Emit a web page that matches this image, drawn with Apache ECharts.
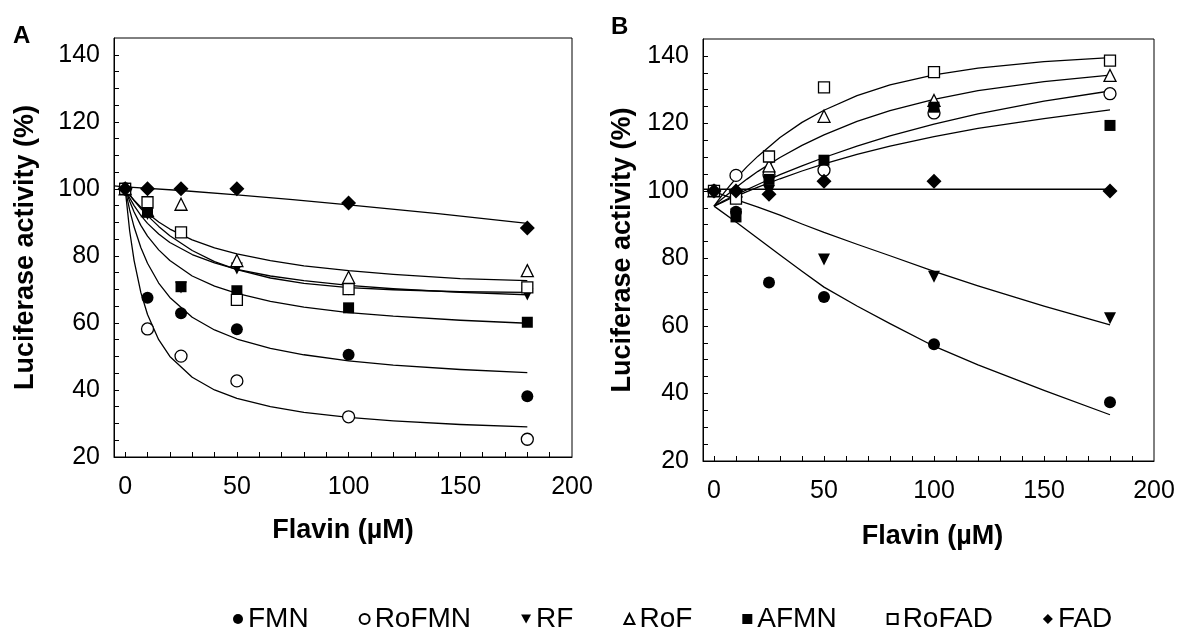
<!DOCTYPE html>
<html>
<head>
<meta charset="utf-8">
<script src="https://cdn.jsdelivr.net/npm/echarts@6/dist/echarts.min.js"></script>
<style>
html,body{margin:0;padding:0;background:#fff;}
#chart{width:1179px;height:634px;}
</style>
</head>
<body>
<div id="chart"></div>
<script>
// ---------- DATA ----------
const seriesNames = ['FMN', 'RoFMN', 'RF', 'RoF', 'AFMN', 'RoFAD', 'FAD'];
const flavinX = [0, 10, 25, 50, 100, 180];

// Panel A measured points
const aFMN   = [100, 67.5, 62.9, 58.1, 50.5, 38.1];
const aRoFMN = [100, 58.2, 50.1, 42.7, 32.0, 25.3];
const aRF    = [100, 92.5, 70.6, 76.2, 70.0, 68.5];
const aRoF   = [100, 93.5, 95.4, 78.6, 73.6, 75.6];
const aAFMN  = [100, 93.0, 70.8, 69.6, 64.5, 60.2];
const aRoFAD = [100, 96.0, 87.0, 66.9, 70.1, 70.6];
const aFAD   = [100, 100, 100, 100, 95.8, 88.3];

// Panel A fitted curves
const aCurveX   = [0, 2, 4, 7, 10, 15, 20, 30, 40, 50, 65, 80, 100, 120, 150, 180];
const aFitFMN   = [100, 93.7, 88.6, 82.5, 77.8, 71.9, 67.6, 61.7, 57.9, 55.2, 52.4, 50.5, 48.7, 47.4, 46.1, 45.2];
const aFitRoFMN = [100, 87.5, 78.6, 69.1, 62.5, 55.0, 50.0, 43.8, 40.0, 37.5, 35.0, 33.3, 31.8, 30.8, 29.7, 29.0];
const aFitRF    = [100, 98.2, 96.5, 94.1, 92.0, 88.8, 86.0, 81.6, 78.3, 75.9, 73.4, 71.8, 70.5, 69.9, 69.3, 69.1];
const aFitRoF   = [100, 98.2, 96.6, 94.5, 92.7, 90.1, 88.0, 84.8, 82.4, 80.6, 78.6, 77.0, 75.6, 74.5, 73.2, 72.6];
const aFitAFMN  = [100, 96.3, 93.1, 89.1, 85.9, 81.8, 78.6, 74.0, 71.0, 68.8, 66.4, 64.7, 63.1, 62.0, 60.8, 59.9];
const aFitRoFAD = [100, 97.3, 95.0, 92.1, 89.7, 86.5, 84.0, 80.4, 77.9, 76.0, 74.0, 72.6, 71.2, 70.2, 69.1, 68.4];
const aFADX     = [-5, 0, 25, 50, 75, 100, 140, 180];
const aFitFAD   = [100.9, 100.6, 99.5, 98.2, 96.8, 95.2, 92.6, 89.7];

// Panel B measured points
const bFMN   = [100, 93.8, 72.9, 68.6, 54.6, 37.4];
const bRoFMN = [100, 104.6, 104.8, 106.1, 123.1, 128.8];
const bRF    = [100, 93.0, 100.0, 79.7, 74.6, 62.3];
const bRoF   = [100, 100.0, 107.4, 122.1, 126.8, 134.2];
const bAFMN  = [100, 92.3, 103.4, 109.1, 124.8, 119.4];
const bRoFAD = [100, 97.7, 110.2, 130.7, 135.2, 138.6];
const bFAD   = [100, 100, 99, 102.9, 102.9, 100];

// Panel B fitted curves
const bCurveX   = [0, 2, 4, 7, 10, 15, 20, 30, 40, 50, 65, 80, 100, 120, 150, 180];
const bFitRoFMN = [95.5, 96.2, 96.9, 97.9, 98.8, 100.4, 101.9, 104.8, 107.4, 109.9, 113.3, 116.3, 119.8, 122.8, 126.6, 129.6];
const bFitRoF   = [95.5, 96.7, 97.8, 99.4, 101.0, 103.5, 105.8, 109.9, 113.5, 116.6, 120.6, 123.8, 127.1, 129.7, 132.4, 134.3];
const bFitAFMN  = [95.5, 96.1, 96.7, 97.6, 98.4, 99.8, 101.1, 103.6, 105.9, 108.0, 110.8, 113.3, 116.1, 118.5, 121.4, 124.0];
const bFitRoFAD = [95.5, 97.3, 99.0, 101.4, 103.7, 107.2, 110.3, 115.8, 120.3, 123.9, 128.2, 131.4, 134.4, 136.4, 138.3, 139.5];
const bDownX    = [0, 10, 20, 30, 40, 50, 65, 80, 100, 120, 150, 180];
const bFitFMN   = [95.5, 90.8, 85.9, 81.0, 76.2, 71.5, 65.9, 60.7, 54.0, 48.5, 40.9, 33.7];
const bFitRF    = [99.8, 97.4, 95.2, 92.8, 90.2, 87.7, 84.2, 80.8, 76.2, 71.9, 65.9, 60.3];
const bFADX     = [-5, 0, 50, 100, 180];
const bFitFAD   = [100.5, 100.5, 100.5, 100.5, 100.5];

// Axis ticks / labels
const xTickValues  = [0, 10, 20, 30, 40, 50, 60, 70, 80, 90, 100, 110, 120, 130, 140, 150, 160, 170, 180, 190];
const xTickLabels  = [0, 50, 100, 150, 200];
const yTickValues  = [20, 25, 30, 35, 40, 45, 50, 55, 60, 65, 70, 75, 80, 85, 90, 95, 100, 105, 110, 115, 120, 125, 130, 135, 140];
const yTickLabels  = [20, 40, 60, 80, 100, 120, 140];
const xTitle = 'Flavin (µM)';
const yTitle = 'Luciferase activity (%)';
const panelLetters = ['A', 'B'];

// ---------- STYLE ----------
const FONT = 'Liberation Sans, Arial, sans-serif';
const symbolStyle = {
  FMN:   {symbol: 'circle',   size: 12, rotate: 0,   filled: true,  icon: 'circle'},
  RoFMN: {symbol: 'circle',   size: 12, rotate: 0,   filled: false, icon: 'circle'},
  RF:    {symbol: 'triangle', size: 12, rotate: 180, filled: true,  icon: 'path://M0,0L10,0L5,9Z'},
  RoF:   {symbol: 'triangle', size: 12, rotate: 0,   filled: false, icon: 'triangle'},
  AFMN:  {symbol: 'rect',     size: 11, rotate: 0,   filled: true,  icon: 'rect'},
  RoFAD: {symbol: 'rect',     size: 11, rotate: 0,   filled: false, icon: 'rect'},
  FAD:   {symbol: 'diamond',  size: 15, rotate: 0,   filled: true,  icon: 'diamond'}
};

const panels = [
  {pts: {FMN: aFMN, RoFMN: aRoFMN, RF: aRF, RoF: aRoF, AFMN: aAFMN, RoFAD: aRoFAD, FAD: aFAD},
   fits: {FMN: [aCurveX, aFitFMN], RoFMN: [aCurveX, aFitRoFMN], RF: [aCurveX, aFitRF], RoF: [aCurveX, aFitRoF],
          AFMN: [aCurveX, aFitAFMN], RoFAD: [aCurveX, aFitRoFAD], FAD: [aFADX, aFitFAD]}},
  {pts: {FMN: bFMN, RoFMN: bRoFMN, RF: bRF, RoF: bRoF, AFMN: bAFMN, RoFAD: bRoFAD, FAD: bFAD},
   fits: {FMN: [bDownX, bFitFMN], RoFMN: [bCurveX, bFitRoFMN], RF: [bDownX, bFitRF], RoF: [bCurveX, bFitRoF],
          AFMN: [bCurveX, bFitAFMN], RoFAD: [bCurveX, bFitRoFAD], FAD: [bFADX, bFitFAD]}}
];

const grids = [
  {left: 114, top: 38, width: 458, height: 419},
  {left: 703, top: 39, width: 451, height: 422}
];
const yNameGap = [75, 67];
const xNameGap = [60, 62];
const xNamePad = [[0, 0, 0, 0], [0, 0, 0, 8]];

const chart = echarts.init(document.getElementById('chart'), null, {renderer: 'canvas'});

const xAxes = [], yAxes = [], series = [];
grids.forEach((g, i) => {
  xAxes.push({
    type: 'value', gridIndex: i, min: -5, max: 200,
    name: xTitle, nameLocation: 'middle', nameGap: xNameGap[i],
    nameTextStyle: {fontFamily: FONT, fontSize: 27, fontWeight: 'bold', color: '#000', padding: xNamePad[i]},
    axisLine: {show: true, onZero: false, lineStyle: {color: '#000', width: 1}},
    axisTick: {show: true, inside: true, length: 5, customValues: xTickValues, lineStyle: {color: '#000', width: 1}},
    axisLabel: {customValues: xTickLabels, fontFamily: FONT, fontSize: 25, color: '#000', margin: 18},
    splitLine: {show: false}
  });
  yAxes.push({
    type: 'value', gridIndex: i, min: 20, max: 145,
    name: yTitle, nameLocation: 'middle', nameGap: yNameGap[i],
    nameTextStyle: {fontFamily: FONT, fontSize: 27, fontWeight: 'bold', color: '#000'},
    axisLine: {show: true, onZero: false, lineStyle: {color: '#000', width: 1}},
    axisTick: {show: true, inside: true, length: 5, customValues: yTickValues, lineStyle: {color: '#000', width: 1}},
    axisLabel: {customValues: yTickLabels, fontFamily: FONT, fontSize: 25, color: '#000', margin: 14},
    splitLine: {show: false}
  });
  const p = panels[i];
  seriesNames.forEach(n => {
    const [cx, cy] = p.fits[n];
    series.push({
      name: n + ' fit ' + i, type: 'line', xAxisIndex: i, yAxisIndex: i,
      data: cx.map((x, k) => [x, cy[k]]),
      smooth: false, showSymbol: false, symbol: 'none',
      lineStyle: {color: '#000', width: 1.3, join: 'round'}, silent: true, z: 2, animation: false
    });
  });
  seriesNames.forEach(n => {
    const s = symbolStyle[n];
    series.push({
      name: n, type: 'scatter', xAxisIndex: i, yAxisIndex: i,
      data: flavinX.map((x, k) => [x, p.pts[n][k]]),
      symbol: s.symbol, symbolSize: s.size, symbolRotate: s.rotate,
      itemStyle: s.filled ? {color: '#000', borderColor: '#000', borderWidth: 0, opacity: 1}
                          : {color: '#fff', borderColor: '#000', borderWidth: 1.3, opacity: 1},
      z: 3, animation: false
    });
  });
});

chart.setOption({
  animation: false,
  backgroundColor: '#fff',
  grid: grids.map(g => Object.assign({show: true, borderColor: '#000', borderWidth: 1, backgroundColor: 'transparent'}, g)),
  xAxis: xAxes,
  yAxis: yAxes,
  legend: {
    data: seriesNames.map(n => ({name: n, icon: symbolStyle[n].icon})),
    left: 228, top: 600, orient: 'horizontal',
    itemWidth: 10, itemHeight: 10, itemGap: 50, itemTextGap: 13,
    textStyle: {fontFamily: FONT, fontSize: 28, color: '#000'}
  },
  graphic: [
    {type: 'text', left: 13, top: 24, style: {text: panelLetters[0], font: 'bold 24px ' + FONT, fill: '#000'}},
    {type: 'text', left: 611, top: 15, style: {text: panelLetters[1], font: 'bold 24px ' + FONT, fill: '#000'}}
  ],
  series: series
});
</script>
</body>
</html>
